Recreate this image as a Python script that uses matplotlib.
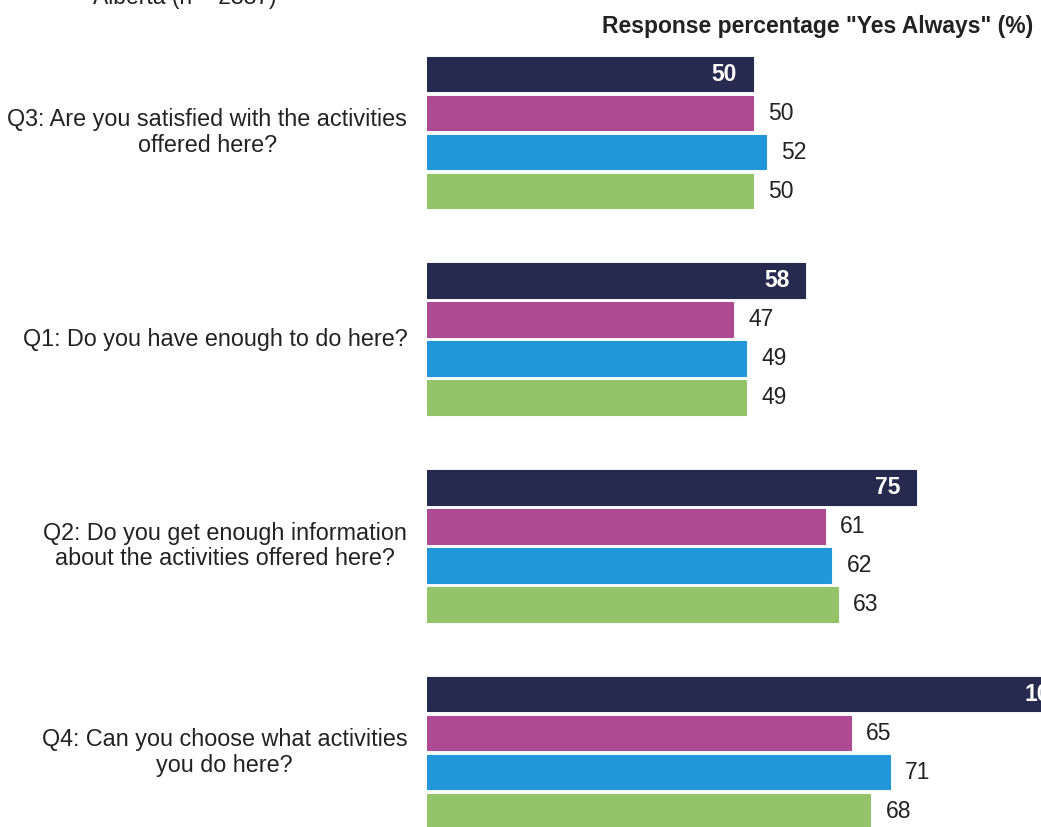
import matplotlib.pyplot as plt

plt.rcParams['font.family'] = ['Liberation Sans', 'DejaVu Sans']

questions = [
    "Q3: Are you satisfied with the activities\noffered here?",
    "Q1: Do you have enough to do here?",
    "Q2: Do you get enough information\nabout the activities offered here?",
    "Q4: Can you choose what activities\nyou do here?",
]
facility = [50, 58, 75, 100]
zone_a = [50, 47, 61, 65]
zone_b = [52, 49, 62, 71]
province = [50, 49, 63, 68]

series = [facility, zone_a, zone_b, province]
colors = ['#262a4e', '#ad4a92', '#2196d8', '#94c46a']

group_gap = 5.3
bar_h = 0.89
fs = 16.5

fig = plt.figure(figsize=(10.41, 8.27), dpi=100)
# axes deliberately runs past the right edge so the longest bar is cut off
ax = fig.add_axes([0.41, 0.0, 0.6263, 1.0])
ax.set_xlim(0, 100)
ax.set_ylim(19.31, -1.9)
ax.axis('off')

for j, (vals, c) in enumerate(zip(series, colors)):
    ys = [g * group_gap + j for g in range(len(vals))]
    ax.barh(ys, vals, height=bar_h, color=c, edgecolor=c, linewidth=0.8)
    for y, v in zip(ys, vals):
        if j == 0:
            ax.text(v - 2.4, y, str(v), ha='right', va='center', color='white',
                    fontsize=fs, fontweight='bold')
        else:
            ax.text(v + 2.4, y, str(v), ha='left', va='center', color='#222222',
                    fontsize=fs)

for g, q in enumerate(questions):
    y = g * group_gap + 1.5
    ax.annotate(q, xy=(0, y), xytext=(-14, 0), textcoords='offset points',
                ha='right', va='center', multialignment='center',
                linespacing=1.12, fontsize=16.8, color='#222222',
                annotation_clip=False)

fig.text(0.993, 0.968, 'Response percentage "Yes Always" (%)', ha='right',
         va='center', fontsize=fs, fontweight='bold', color='#222222')
fig.text(0.089, 1 - 4 / 827, 'Alberta (n = 2887)', ha='left', va='baseline',
         fontsize=fs, color='#222222')

fig.savefig('out.png', dpi=100)
